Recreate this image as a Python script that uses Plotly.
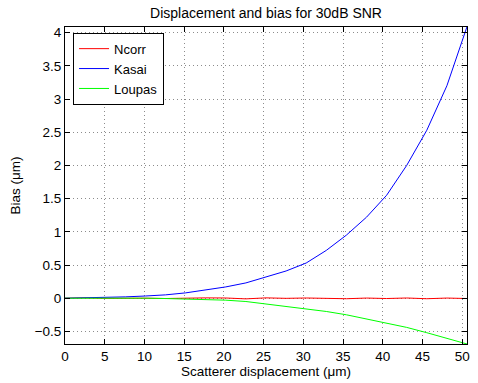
import numpy as np
import plotly.graph_objects as go

# Scatterer displacement samples (µm)
displacement = [0, 2.53, 5.06, 7.59, 10.12, 12.65, 15.18, 17.71, 20.24, 22.77, 25.3,
                27.83, 30.36, 32.89, 35.42, 37.95, 40.48, 43.01, 45.54, 48.07, 50.6]

ncorr = [0, 0.005, -0.003, 0.003, 0.0, -0.005, 0.002, 0.005, 0.003, -0.01, 0.005,
         -0.002, 0.003, -0.003, -0.008, 0.002, -0.005, 0.003, -0.008, 0.002, -0.005]

kasai = [0, 0.003, 0.01, 0.02, 0.033, 0.05, 0.08, 0.12, 0.17, 0.23, 0.315,
         0.41, 0.53, 0.72, 0.95, 1.22, 1.55, 2.0, 2.53, 3.2, 4.09]

loupas = [0, 0.002, 0.003, 0.002, 0.0, -0.005, -0.01, -0.018, -0.03, -0.05, -0.085,
          -0.12, -0.16, -0.2, -0.25, -0.31, -0.37, -0.44, -0.52, -0.6, -0.69]

x_ticks = [0, 5, 10, 15, 20, 25, 30, 35, 40, 45, 50]
y_ticks = [-0.5, 0, 0.5, 1, 1.5, 2, 2.5, 3, 3.5, 4]
y_ticklabels = ["\u22120.5", "0", "0.5", "1", "1.5", "2", "2.5", "3", "3.5", "4"]

font = "Liberation Sans, Arial, Helvetica, sans-serif"

fig = go.Figure()
fig.add_trace(go.Scatter(x=displacement, y=ncorr, mode="lines", name="Ncorr",
                         line=dict(color="rgb(255,0,0)", width=1)))
fig.add_trace(go.Scatter(x=displacement, y=kasai, mode="lines", name="Kasai",
                         line=dict(color="rgb(0,0,255)", width=1)))
fig.add_trace(go.Scatter(x=displacement, y=loupas, mode="lines", name="Loupas",
                         line=dict(color="rgb(0,255,0)", width=1)))

axis_common = dict(
    showline=True, linecolor="black", linewidth=1, mirror="ticks",
    ticks="inside", ticklen=5, tickcolor="black",
    showgrid=True, gridcolor="rgba(0,0,0,0.45)", griddash="1px,3px", gridwidth=1,
    zeroline=False, tickfont=dict(family=font, size=13.5, color="black"),
)

fig.update_layout(
    width=478, height=383,
    margin=dict(l=65, r=8, t=27, b=38),
    paper_bgcolor="white", plot_bgcolor="white",
    font=dict(family=font, size=13, color="black"),
    title=dict(text="Displacement and bias for 30dB SNR", x=0.5, xref="paper",
               xanchor="center", y=0.978, yanchor="top",
               font=dict(family=font, size=14, color="black")),
    xaxis=dict(range=[0, 50.6], tickvals=x_ticks,
               title=dict(text="Scatterer displacement (\u03bcm)", standoff=1,
                          font=dict(family=font, size=13.5)),
               **axis_common),
    yaxis=dict(range=[-0.69, 4.085], tickvals=y_ticks, ticktext=y_ticklabels,
               title=dict(text="Bias (\u03bcm)", standoff=10,
                          font=dict(family=font, size=13.5)),
               **axis_common),
    legend=dict(x=0.02, y=0.982, xanchor="left", yanchor="top",
                bgcolor="white", bordercolor="black", borderwidth=1,
                font=dict(family=font, size=13, color="black"),
                tracegroupgap=0, itemwidth=30),
    showlegend=True,
)

fig.write_html("out.html")
